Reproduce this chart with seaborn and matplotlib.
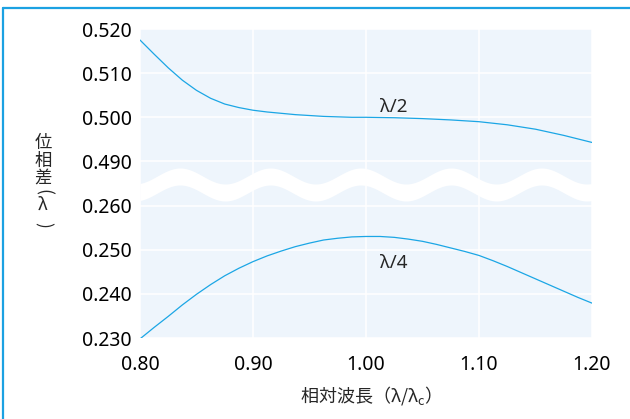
import numpy as np
import seaborn as sns
import matplotlib.pyplot as plt
from matplotlib.lines import Line2D

# relative wavelength (λ/λc) and retardation (λ)
wavelength = [0.8000, 0.8125, 0.8250, 0.8375, 0.8500, 0.8625, 0.8750, 0.8875,
              0.9000, 0.9125, 0.9250, 0.9375, 0.9500, 0.9625, 0.9750, 0.9875,
              1.0000, 1.0125, 1.0250, 1.0375, 1.0500, 1.0625, 1.0750, 1.0875,
              1.1000, 1.1125, 1.1250, 1.1375, 1.1500, 1.1625, 1.1750, 1.1875,
              1.2000]
half_wave = [0.5175, 0.5143, 0.5112, 0.5084, 0.5061, 0.5043, 0.5030, 0.5022,
             0.5016, 0.5012, 0.5009, 0.5006, 0.5004, 0.5002, 0.5001, 0.5000,
             0.5000, 0.49995, 0.4999, 0.4998, 0.4997, 0.49955, 0.4994, 0.4992,
             0.4990, 0.49865, 0.4983, 0.4978, 0.4973, 0.4966, 0.4959, 0.4951,
             0.4943]
quarter_wave = [0.2298, 0.2324, 0.2349, 0.2375, 0.2399, 0.2421, 0.2441, 0.2458,
                0.2473, 0.2486, 0.2497, 0.2507, 0.2515, 0.2522, 0.2526, 0.2529,
                0.2530, 0.2530, 0.2528, 0.2524, 0.2519, 0.2512, 0.2504, 0.2496,
                0.2487, 0.2475, 0.2462, 0.2448, 0.2434, 0.2420, 0.2406, 0.2392,
                0.2379]

x_ticks = [0.80, 0.90, 1.00, 1.10, 1.20]
top_ticks = [0.490, 0.500, 0.510, 0.520]
bottom_ticks = [0.230, 0.240, 0.250, 0.260]

LINE = "#1ba6e5"
BG = "#eef5fc"
CJK = ["Noto Sans CJK JP", "DejaVu Sans"]

sns.set_style("darkgrid", {"axes.facecolor": BG, "grid.color": "white"})
plt.rcParams["font.family"] = ["Noto Sans", "Noto Sans CJK JP", "DejaVu Sans"]
plt.rcParams["grid.linewidth"] = 1.1
plt.rcParams["mathtext.fontset"] = "custom"
plt.rcParams["mathtext.rm"] = "Noto Sans CJK JP"

W, H = 630, 419
fig = plt.figure(figsize=(W / 100, H / 100), dpi=100)

left, right, top, bottom = 140, 592, 29, 338
mid = (top + bottom) / 2


def box(y0, y1):
    return [left / W, 1 - y1 / H, (right - left) / W, (y1 - y0) / H]


ax_top = fig.add_axes(box(top, mid))
ax_bot = fig.add_axes(box(mid, bottom), sharex=ax_top)

sns.lineplot(x=wavelength, y=half_wave, ax=ax_top, color=LINE, linewidth=0.9)
sns.lineplot(x=wavelength, y=quarter_wave, ax=ax_bot, color=LINE, linewidth=0.9)

ax_top.set_ylim(0.485, 0.520)
ax_bot.set_ylim(0.230, 0.265)
ax_top.set_yticks(top_ticks)
ax_bot.set_yticks(bottom_ticks)
ax_top.set_yticklabels([f"{v:.3f}" for v in top_ticks])
ax_bot.set_yticklabels([f"{v:.3f}" for v in bottom_ticks])
ax_bot.set_xlim(0.80, 1.20)
ax_bot.set_xticks(x_ticks)
ax_bot.set_xticklabels([f"{v:.2f}" for v in x_ticks])

for ax in (ax_top, ax_bot):
    for s in ax.spines.values():
        s.set_visible(False)
    ax.tick_params(axis="both", length=0, labelsize=14, colors="black")
    ax.tick_params(axis="y", pad=6)
    ax.set_ylabel("")
ax_top.tick_params(axis="x", labelbottom=False)
ax_bot.tick_params(axis="x", pad=12)

ax_top.text(1.012, 0.5024, "λ/2", fontsize=13.5, va="center", ha="left")
ax_bot.text(1.012, 0.2470, "λ/4", fontsize=13.5, va="center", ha="left")

ax_bot.set_xlabel("相対波長（λ/λ$_{\\mathrm{c}}$）", family=CJK, fontsize=13, labelpad=7)

# wavy break between the two panels
wave = fig.add_axes([left / W, 1 - 212 / H, (right - left) / W, 54 / H])
wave.set_axis_off()
wave.patch.set_alpha(0)
px = np.linspace(0, right - left, 400)
edge = 176 - 8 * np.cos(2 * np.pi * (px - 40) / ((right - left) / 5))
wave.fill_between(px, edge, edge + 17, color="white", linewidth=0)
wave.set_xlim(0, right - left)
wave.set_ylim(212, 158)

# vertical y label
for ch, y, rot in [("位", 143, 0), ("相", 160.5, 0), ("差", 178, 0),
                   ("(", 191.5, -90), ("λ", 205, 0), (")", 225, -90)]:
    fig.text(43 / W, 1 - y / H, ch, family=CJK, fontsize=12.5,
             ha="center", va="center", rotation=rot, rotation_mode="anchor")

# frame lines on top and left
fig.add_artist(Line2D([3 / W, 1], [1 - 8 / H, 1 - 8 / H], color="#1ba1e2", linewidth=1.6))
fig.add_artist(Line2D([3 / W, 3 / W], [0, 1 - 8 / H], color="#1ba1e2", linewidth=1.6))

fig.savefig("out.png", dpi=100)
